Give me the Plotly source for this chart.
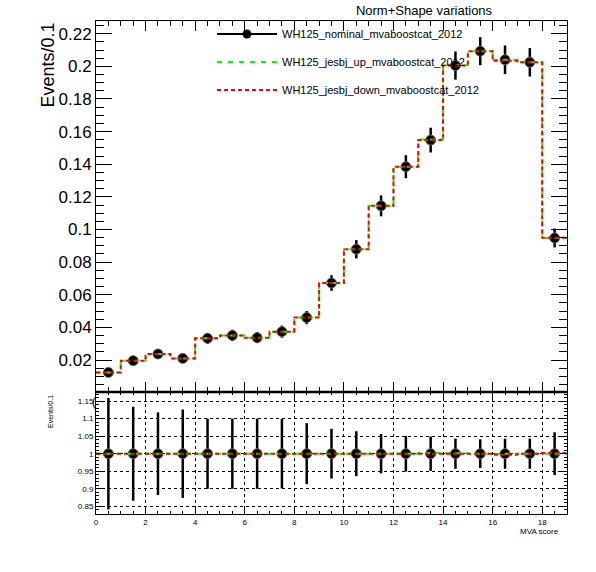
import plotly.graph_objects as go

# bin edges of the MVA score histogram (19 bins of width 1)
edges = list(range(0, 20))
centers = [e + 0.5 for e in edges[:-1]]

nominal = [0.0124, 0.0196, 0.0237, 0.0210, 0.0333, 0.0351, 0.0337, 0.0374, 0.0460, 0.0672,
           0.0879, 0.1145, 0.1385, 0.1548, 0.2005, 0.2093, 0.2040, 0.2025, 0.0948]
rel_err = [0.159, 0.134, 0.118, 0.126, 0.100, 0.100, 0.100, 0.099, 0.087, 0.071,
           0.064, 0.056, 0.051, 0.049, 0.043, 0.041, 0.043, 0.043, 0.061]
ratio_up = [1.000, 1.000, 1.000, 1.000, 1.000, 1.000, 1.000, 1.000, 1.000, 1.000,
            1.000, 1.000, 1.000, 1.002, 1.001, 1.000, 1.000, 1.000, 1.000]
ratio_down = [1.000, 1.000, 1.000, 1.000, 1.000, 1.000, 1.000, 1.000, 1.000, 1.000,
              1.000, 1.000, 1.000, 1.000, 1.000, 1.000, 0.997, 1.000, 1.002]

up = [n * r for n, r in zip(nominal, ratio_up)]
down = [n * r for n, r in zip(nominal, ratio_down)]
err_main = [n * e for n, e in zip(nominal, rel_err)]

FONT = "Liberation Sans, Arial, Helvetica, sans-serif"
GREEN = "#00ff00"
RED = "#ff0000"
names = ["WH125_nominal_mvaboostcat_2012", "WH125_jesbj_up_mvaboostcat_2012",
         "WH125_jesbj_down_mvaboostcat_2012"]


def steps(vals):
    # histogram outline: value repeated so the last bin closes at the right edge
    return vals + [vals[-1]]


marker = dict(symbol="circle", size=10, color="black", line=dict(color="#666666", width=1))

fig = go.Figure()

# main panel
fig.add_trace(go.Scatter(x=centers, y=nominal, mode="markers", marker=marker,
                         error_y=dict(type="data", array=err_main, color="black", thickness=2.5, width=0),
                         showlegend=False, xaxis="x", yaxis="y"))
fig.add_trace(go.Scatter(x=edges, y=steps(up), mode="lines", line_shape="hv",
                         line=dict(color=GREEN, width=2, dash="5px,5px"),
                         showlegend=False, xaxis="x", yaxis="y"))
fig.add_trace(go.Scatter(x=edges, y=steps(down), mode="lines", line_shape="hv",
                         line=dict(color=RED, width=2, dash="4px,3px"),
                         showlegend=False, xaxis="x", yaxis="y"))

# ratio panel
fig.add_trace(go.Scatter(x=centers, y=[1.0] * len(centers), mode="markers", marker=marker,
                         error_y=dict(type="data", array=rel_err, color="black", thickness=2.5, width=0),
                         showlegend=False, xaxis="x2", yaxis="y2"))
fig.add_trace(go.Scatter(x=edges, y=steps(ratio_up), mode="lines", line_shape="hv",
                         line=dict(color=GREEN, width=2, dash="5px,5px"),
                         showlegend=False, xaxis="x2", yaxis="y2"))
fig.add_trace(go.Scatter(x=edges, y=steps(ratio_down), mode="lines", line_shape="hv",
                         line=dict(color=RED, width=2, dash="4px,3px"),
                         showlegend=False, xaxis="x2", yaxis="y2"))

# legend entries
fig.add_trace(go.Scatter(x=[None], y=[None], mode="lines+markers", name=names[0],
                         line=dict(color="black", width=2), marker=dict(symbol="circle", size=9, color="black"),
                         legend="legend"))
fig.add_trace(go.Scatter(x=[None], y=[None], mode="lines", name=names[1],
                         line=dict(color=GREEN, width=2, dash="5px,6px"), legend="legend2"))
fig.add_trace(go.Scatter(x=[None], y=[None], mode="lines", name=names[2],
                         line=dict(color=RED, width=2, dash="4px,3px"), legend="legend3"))

W, H = 596, 572
L, R, T, B = 96, 29, 21, 58
pw, ph = W - L - R, H - T - B
split = (H - B - 392) / ph


def px_x(p):
    return (p - L) / pw


def px_y(p):
    return (H - B - p) / ph


leg = dict(xanchor="left", yanchor="middle", bgcolor="rgba(0,0,0,0)", borderwidth=0,
           font=dict(family=FONT, size=11, color="black"), itemwidth=60)

axis_common = dict(showline=True, linecolor="black", linewidth=1, mirror="allticks",
                   ticks="inside", tickcolor="black", zeroline=False)

fig.update_layout(
    width=W, height=H,
    margin=dict(l=L, r=R, t=T, b=B),
    paper_bgcolor="white", plot_bgcolor="white",
    font=dict(family=FONT, color="black"),
    title=dict(text="Norm+Shape variations", x=px_x(424), xref="paper", xanchor="center",
               y=1 - 10 / H, yanchor="middle", font=dict(size=13, family=FONT, color="black")),
    legend=dict(leg, x=px_x(212), y=px_y(34)),
    legend2=dict(leg, x=px_x(212), y=px_y(62)),
    legend3=dict(leg, x=px_x(212), y=px_y(90)),
    xaxis=dict(axis_common, domain=[0, 1], anchor="y", range=[0, 19], dtick=2, tick0=0,
               ticklen=10, showticklabels=False, showgrid=False,
               minor=dict(dtick=0.5, ticklen=5, ticks="inside", tickcolor="black", showgrid=False)),
    yaxis=dict(axis_common, domain=[split, 1], anchor="x", range=[0.0004, 0.2278], dtick=0.02, tick0=0,
               ticklen=16, showgrid=False, tickfont=dict(size=17),
               minor=dict(dtick=0.005, ticklen=8, ticks="inside", tickcolor="black", showgrid=False)),
    xaxis2=dict(axis_common, domain=[0, 1], anchor="y2", range=[0, 19], dtick=2, tick0=0,
                ticklen=6, tickfont=dict(size=8), showgrid=True, gridcolor="black",
                griddash="dot", gridwidth=1,
                minor=dict(dtick=0.5, ticklen=3, ticks="inside", tickcolor="black", showgrid=False)),
    yaxis2=dict(axis_common, domain=[0, split], anchor="x2", range=[0.828, 1.176], dtick=0.05, tick0=0,
                ticklen=6, tickfont=dict(size=8), showgrid=True, gridcolor="black",
                griddash="dot", gridwidth=1,
                minor=dict(dtick=0.01, ticklen=3, ticks="inside", tickcolor="black", showgrid=False)),
    shapes=[dict(type="line", xref="paper", yref="paper", x0=0, x1=1, y0=split, y1=split,
                 line=dict(color="black", width=2.5))],
    annotations=[
        dict(text="Events/0.1", textangle=-90, xref="paper", yref="paper", x=px_x(47), y=1,
             xanchor="center", yanchor="top", showarrow=False, font=dict(size=18)),
        dict(text="Events/0.1", textangle=-90, xref="paper", yref="paper", x=px_x(50), y=px_y(412),
             xanchor="center", yanchor="middle", showarrow=False, font=dict(size=7)),
        dict(text="MVA score", xref="paper", yref="paper", x=px_x(561), y=px_y(531),
             xanchor="right", yanchor="middle", showarrow=False, font=dict(size=8)),
        # stray bracket ROOT leaves at the top of the ratio axis
        dict(text="(", xref="paper", yref="paper", x=px_x(94), y=px_y(402),
             xanchor="center", yanchor="middle", showarrow=False, font=dict(size=12)),
    ],
)

# drop the browser's default page margin so the figure sits at the window corner
fig.write_html("out.html", config={"displayModeBar": False},
               post_script="document.body.style.margin='0px';")
